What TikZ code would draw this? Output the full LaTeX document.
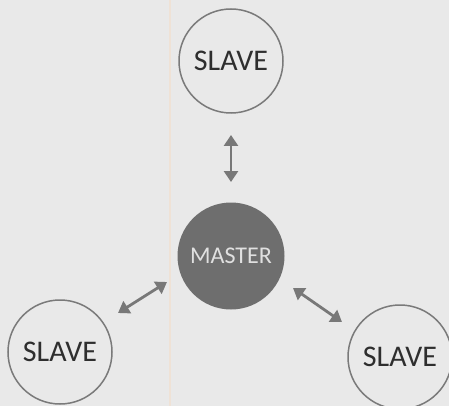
\documentclass[tikz,border=0pt]{standalone}
\usepackage{fontspec}
\setmainfont{Carlito}
\usetikzlibrary{arrows.meta}
\definecolor{bg}{HTML}{E9E9E9}
\definecolor{ring}{HTML}{7A7A7A}
\definecolor{mfill}{HTML}{6E6E6E}
\definecolor{arr}{HTML}{787878}
\definecolor{fold}{HTML}{EFE2D6}
\begin{document}
\begin{tikzpicture}[x=1pt,y=-1pt,
  slave/.style={circle,draw=ring,line width=1.5pt,minimum size=104pt,inner sep=0pt,font=\fontsize{30}{32}\selectfont,text=black!82},
  master/.style={circle,fill=mfill,minimum size=107pt,inner sep=0pt,font=\fontsize{24}{26}\selectfont,text=white!88!black},
  link/.style={draw=arr,line width=2.8pt,{Triangle[length=11pt,width=14pt]}-{Triangle[length=11pt,width=14pt]}}]
\fill[bg] (0,0) rectangle (449,406);
\useasboundingbox (0,0) rectangle (449,406);
\draw[fold,line width=1.2pt] (170,0) -- (170,406);
\node[slave] (top) at (231,61) {SLAVE};
\node[master] (m) at (231,256) {MASTER};
\node[slave] (bl) at (60,352) {SLAVE};
\node[slave] (br) at (400,357) {SLAVE};
\coordinate (a1) at (231,135);
\coordinate (a2) at (231,182);
\coordinate (b1) at (118,313);
\coordinate (b2) at (167,282);
\coordinate (c1) at (293,288);
\coordinate (c2) at (342,322);
\draw[link] (a1) -- (a2);
\draw[link] (b1) -- (b2);
\draw[link] (c1) -- (c2);
\end{tikzpicture}
\end{document}
